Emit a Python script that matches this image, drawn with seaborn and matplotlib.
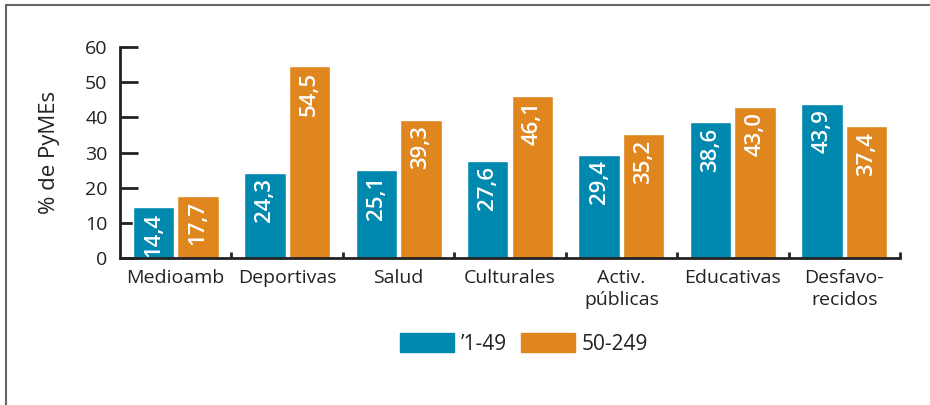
import seaborn as sns
import matplotlib.pyplot as plt
import matplotlib.patches as mpatches
import pandas as pd

categorias = ['Medioamb', 'Deportivas', 'Salud', 'Culturales', 'Activ.\npúblicas',
              'Educativas', 'Desfavo-\nrecidos']
pequenas = [14.4, 24.3, 25.1, 27.6, 29.4, 38.6, 43.9]   # ’1-49
medianas = [17.7, 54.5, 39.3, 46.1, 35.2, 43.0, 37.4]   # 50-249
series = ["’1-49", '50-249']
colores = ['#0088ae', '#e0861e']

df = pd.DataFrame({
    'cat': categorias * 2,
    'valor': pequenas + medianas,
    'serie': [series[0]] * len(categorias) + [series[1]] * len(categorias),
})

sns.set_style("white")
plt.rcParams['font.family'] = ['Open Sans', 'DejaVu Sans']
fs = 14

fig = plt.figure(figsize=(9.3, 4.05), dpi=100)
ax = fig.add_axes([120 / 930, 1 - 258 / 405, 780 / 930, 211 / 405])

sns.barplot(data=df, x='cat', y='valor', hue='serie', palette=colores,
            width=0.8, gap=0.07, saturation=1, ax=ax, legend=False)

# etiquetas dentro de las barras
for cont in ax.containers:
    for p in cont:
        h = p.get_height()
        ax.annotate(f"{h:.1f}".replace('.', ','), (p.get_x() + p.get_width() / 2, h),
                    xytext=(0, -4), textcoords='offset points', rotation=90,
                    ha='center', va='top', color='white', fontsize=16, fontweight='semibold')

ax.set_ylim(0, 60)
ax.set_xlim(-0.5, len(categorias) - 0.5)
ax.set_yticks(range(0, 61, 10))
ax.set_ylabel('% de PyMEs', fontsize=16, color='#222222', labelpad=18)
ax.set_xlabel('')
for s in ['top', 'right']:
    ax.spines[s].set_visible(False)
for s in ['left', 'bottom']:
    ax.spines[s].set_color('#222222')
    ax.spines[s].set_linewidth(2)
ax.tick_params(axis='y', direction='in', length=13, width=2, color='#222222',
               labelsize=fs, labelcolor='#222222', pad=9, left=True)
ax.tick_params(axis='x', which='major', length=0, labelsize=fs, labelcolor='#222222', pad=8)
for t in ax.get_xticklabels():
    t.set_linespacing(1.25)
ax.set_xticks([i + 0.5 for i in range(len(categorias))], minor=True)
ax.tick_params(axis='x', which='minor', direction='in', length=4, width=2, color='#222222', bottom=True)

handles = [mpatches.Patch(color=c, label=s) for c, s in zip(colores, series)]
fig.legend(handles=handles, loc='center', bbox_to_anchor=(524 / 930, 1 - 344 / 405), ncol=2,
           frameon=False, fontsize=15, handlelength=2.6, handleheight=1.0,
           columnspacing=0.7, handletextpad=0.3, labelcolor='#222222')

# marco
fig.patches.append(mpatches.Rectangle((6 / 930, -0.1), 1.2, 1 - 5 / 405 + 0.1, transform=fig.transFigure,
                                      fill=False, edgecolor='#666666', linewidth=1.5))

fig.savefig('out.png', dpi=100)
